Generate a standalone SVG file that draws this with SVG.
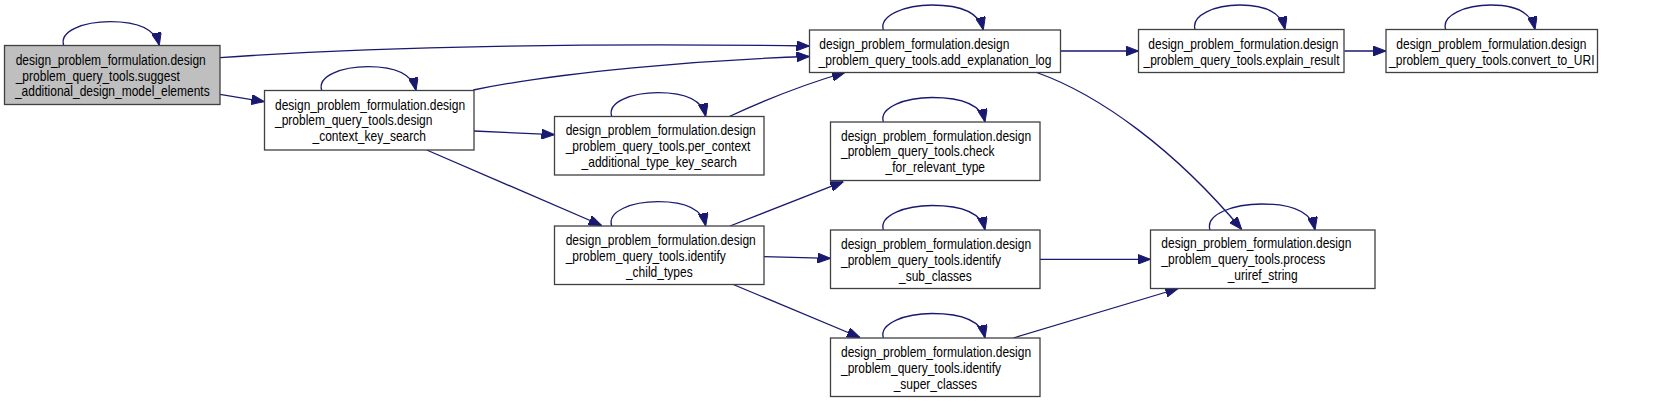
<svg xmlns="http://www.w3.org/2000/svg" width="1672" height="403" viewBox="0 0 1672 403">
<style>
  .box { fill: #ffffff; stroke: #404040; stroke-width: 1.3; }
  .cur { fill: #bfbfbf; }
  .t { font-family: "Liberation Sans", Arial, sans-serif; font-size: 14.6px; fill: #000000; }
  .m { text-anchor: middle; }
  .e { fill: none; stroke: #191970; stroke-width: 1.3; marker-end: url(#ah); }
</style>
<defs>
  <marker id="ah" viewBox="0 0 13 10" refX="13" refY="5" markerWidth="13" markerHeight="10" markerUnits="userSpaceOnUse" orient="auto">
    <path d="M0,0 L13,5 L0,10 z" fill="#191970" stroke="#191970" stroke-width="1"/>
  </marker>
</defs>
<rect width="1672" height="403" fill="#ffffff"/>

<g id="edges">
  <path class="e" d="M63.7,45.5 C59,31 84,21.7 110,21.7 C134,21.7 155,27 159.3,45.5"/>
  <path class="e" d="M321.7,90.5 C317,76 342,66.7 368,66.7 C392,66.7 412,72 416,90.5"/>
  <path class="e" d="M883.3,30 C879,15 906,5 932,5 C957,5 979,11 983.3,30"/>
  <path class="e" d="M611.7,116.5 C607,102 632,92.7 658,92.7 C682,92.7 702,98 705.7,116.5"/>
  <path class="e" d="M883.3,122 C879,107 906,97.5 932,97.5 C958,97.5 981,103 985,122"/>
  <path class="e" d="M1195,29.5 C1191,15 1215,5 1240,5 C1264,5 1281,11 1285,29.5"/>
  <path class="e" d="M1445.7,29.5 C1441,15 1466,5 1491,5 C1514,5 1531,11 1535,29.5"/>
  <path class="e" d="M611.7,226 C607,211 632,201.7 658,201.7 C682,201.7 702,207 705.7,226"/>
  <path class="e" d="M883.3,230 C879,215 906,205.5 932,205.5 C958,205.5 981,211 985,230"/>
  <path class="e" d="M883.3,338 C879,323 906,313.5 932,313.5 C958,313.5 981,319 985,338"/>
  <path class="e" d="M1210,230 C1205,214 1234,204 1262,204 C1290,204 1311,210 1315,230"/>
  <path class="e" d="M220,57.7 C380,46 600,43 809.5,46"/>
  <path class="e" d="M220,94.3 L264.5,101.7"/>
  <path class="e" d="M473.3,90 C560,72 700,60 809.5,56.5"/>
  <path class="e" d="M474,131 L554.5,134.7"/>
  <path class="e" d="M426.7,150 L601.7,225.5"/>
  <path class="e" d="M729.3,116.5 C765,100 805,84 845,72.5"/>
  <path class="e" d="M1060.7,51 L1138.5,51"/>
  <path class="e" d="M1344.3,51 L1386,51"/>
  <path class="e" d="M1036.7,72.5 C1100,95 1175,150 1241.7,229.5"/>
  <path class="e" d="M730,226 L843.3,181.7"/>
  <path class="e" d="M764,256.7 L830.5,258.3"/>
  <path class="e" d="M733.3,284.5 L860,337.5"/>
  <path class="e" d="M1040,259.3 L1150.5,259.3"/>
  <path class="e" d="M1013.3,338 L1178.3,288.5"/>
</g>

<g id="n1">
  <rect class="box cur" x="4.5" y="45.5" width="215.5" height="59"/>
  <text class="t" transform="translate(15.7,65) scale(0.822,1)">design_problem_formulation.design</text>
  <text class="t" transform="translate(15.7,80.5) scale(0.822,1)">_problem_query_tools.suggest</text>
  <text class="t m" transform="translate(112.3,96) scale(0.822,1)">_additional_design_model_elements</text>
</g>
<g id="n2">
  <rect class="box" x="264.5" y="90.5" width="209.5" height="59.5"/>
  <text class="t" transform="translate(275,109.5) scale(0.822,1)">design_problem_formulation.design</text>
  <text class="t" transform="translate(275,125) scale(0.822,1)">_problem_query_tools.design</text>
  <text class="t m" transform="translate(369.2,141) scale(0.822,1)">_context_key_search</text>
</g>
<g id="n3">
  <rect class="box" x="809.5" y="30" width="251" height="42.5"/>
  <text class="t" transform="translate(819.3,48.5) scale(0.822,1)">design_problem_formulation.design</text>
  <text class="t m" transform="translate(935,64.5) scale(0.822,1)">_problem_query_tools.add_explanation_log</text>
</g>
<g id="n4">
  <rect class="box" x="554.5" y="116.5" width="209.5" height="58.5"/>
  <text class="t" transform="translate(565.7,135) scale(0.822,1)">design_problem_formulation.design</text>
  <text class="t" transform="translate(565.7,151) scale(0.822,1)">_problem_query_tools.per_context</text>
  <text class="t m" transform="translate(659.3,167) scale(0.822,1)">_additional_type_key_search</text>
</g>
<g id="n5">
  <rect class="box" x="830.5" y="122" width="209.5" height="58.5"/>
  <text class="t" transform="translate(841,140.5) scale(0.822,1)">design_problem_formulation.design</text>
  <text class="t" transform="translate(841,156) scale(0.822,1)">_problem_query_tools.check</text>
  <text class="t m" transform="translate(935.3,172) scale(0.822,1)">_for_relevant_type</text>
</g>
<g id="n6">
  <rect class="box" x="1138.5" y="29.5" width="205.5" height="43"/>
  <text class="t" transform="translate(1148.3,48.5) scale(0.822,1)">design_problem_formulation.design</text>
  <text class="t m" transform="translate(1241.5,64.5) scale(0.822,1)">_problem_query_tools.explain_result</text>
</g>
<g id="n7">
  <rect class="box" x="1386" y="29.5" width="211.5" height="43"/>
  <text class="t" transform="translate(1396.3,48.5) scale(0.822,1)">design_problem_formulation.design</text>
  <text class="t m" transform="translate(1491.8,64.5) scale(0.822,1)">_problem_query_tools.convert_to_URI</text>
</g>
<g id="n8">
  <rect class="box" x="554.5" y="226" width="209.5" height="58.5"/>
  <text class="t" transform="translate(565.7,244.5) scale(0.822,1)">design_problem_formulation.design</text>
  <text class="t" transform="translate(565.7,260.5) scale(0.822,1)">_problem_query_tools.identify</text>
  <text class="t m" transform="translate(659.3,276.5) scale(0.822,1)">_child_types</text>
</g>
<g id="n9">
  <rect class="box" x="830.5" y="230" width="209.5" height="58.5"/>
  <text class="t" transform="translate(841,248.5) scale(0.822,1)">design_problem_formulation.design</text>
  <text class="t" transform="translate(841,264.5) scale(0.822,1)">_problem_query_tools.identify</text>
  <text class="t m" transform="translate(935.3,280.5) scale(0.822,1)">_sub_classes</text>
</g>
<g id="n10">
  <rect class="box" x="830.5" y="338" width="209.5" height="58.5"/>
  <text class="t" transform="translate(841,356.5) scale(0.822,1)">design_problem_formulation.design</text>
  <text class="t" transform="translate(841,372.5) scale(0.822,1)">_problem_query_tools.identify</text>
  <text class="t m" transform="translate(935.3,388.5) scale(0.822,1)">_super_classes</text>
</g>
<g id="n11">
  <rect class="box" x="1150.5" y="230" width="224.5" height="58.5"/>
  <text class="t" transform="translate(1161.3,248) scale(0.822,1)">design_problem_formulation.design</text>
  <text class="t" transform="translate(1161.3,264) scale(0.822,1)">_problem_query_tools.process</text>
  <text class="t m" transform="translate(1262.7,280) scale(0.822,1)">_uriref_string</text>
</g>
</svg>
